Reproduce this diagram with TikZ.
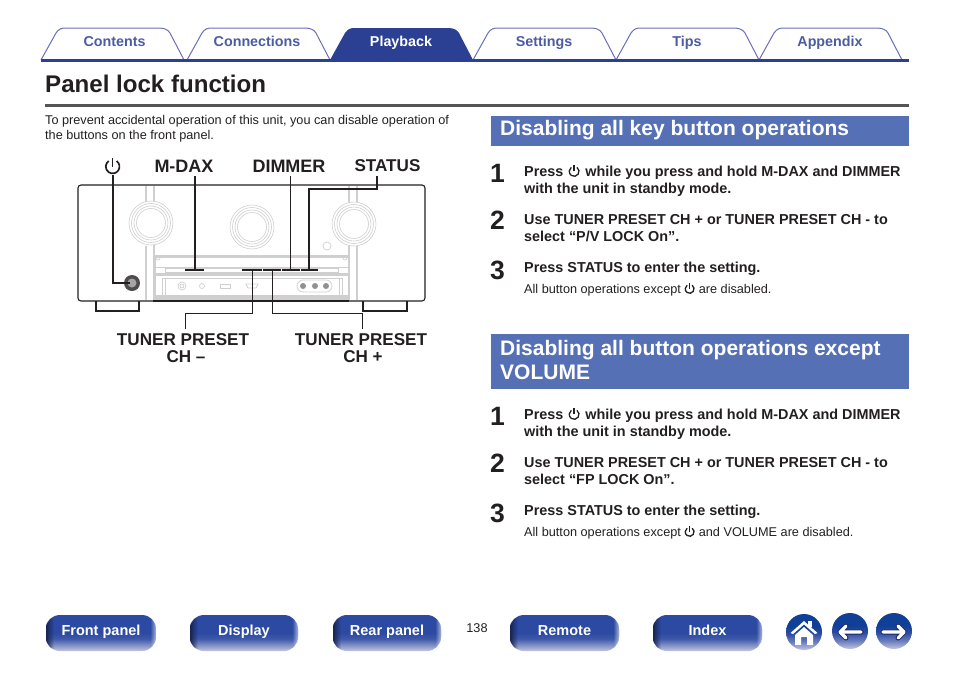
\documentclass[tikz,border=0pt]{standalone}
\usepackage{fontspec}
\setmainfont{Liberation Sans}
\usetikzlibrary{positioning}
\usetikzlibrary{fadings}
\definecolor{mtab}{HTML}{2B3F93}
\definecolor{mbtn}{HTML}{2D4AA2}
\definecolor{mline}{HTML}{6A6DB8}
\definecolor{mhead}{HTML}{5570B5}
\definecolor{mink}{HTML}{231F20}
\definecolor{mrule}{HTML}{555555}
\definecolor{mgray}{HTML}{CFCFCF}
\definecolor{mdeep}{HTML}{0F3F96}
\definecolor{mpale}{HTML}{C6C4E2}
\pgfdeclareverticalshading{mbutton}{100bp}{color(0bp)=(mpale); color(25bp)=(mpale); color(33bp)=(mbtn!60!white); color(42bp)=(mbtn!92!white); color(50bp)=(mbtn); color(100bp)=(mbtn)}
\pgfdeclareverticalshading{mround}{100bp}{color(0bp)=(mpale); color(25bp)=(mpale); color(36bp)=(mbtn!70!white); color(48bp)=(mbtn); color(58bp)=(mdeep); color(100bp)=(mdeep)}
\newcommand{\pwr}[1][1]{\tikz[baseline=0pt,x=1pt,y=1pt,scale=#1]{\draw [pwrline] (0,4.6) ++(55:4.9) arc[start angle=55,end angle=-235,radius=4.9];\draw [pwrline] (0,4.6) -- (0,11);}}
\tikzset{
  pwrline/.style = {line width=1.3pt},
  tablbl/.style = {font=\fontsize{14.3}{16}\bfseries\selectfont, text=mtab!85!white, inner sep=0, anchor=base},
  lbl/.style = {font=\fontsize{18}{20}\bfseries\selectfont, text=mink, inner sep=0},
  lblsm/.style = {lbl, font=\fontsize{17.1}{20}\bfseries\selectfont},
  head/.style = {font=\fontsize{21}{24}\bfseries\selectfont, text=white, inner sep=0, anchor=base west},
  num/.style = {font=\fontsize{26.5}{27}\bfseries\selectfont, text=mink, inner sep=0, anchor=base west},
  stp/.style = {font=\fontsize{14.4}{17}\bfseries\selectfont, text=mink, inner sep=0, anchor=base west},
  note/.style = {font=\fontsize{12.7}{15}\selectfont, text=mink, inner sep=0, anchor=base west},
  navbtn/.style = {shading=mbutton, rounded corners=14, minimum width=#1, minimum height=36, inner sep=0,
    text height=10, text depth=6, font=\fontsize{14.5}{16}\bfseries\selectfont, text=white},
  roundbtn/.style = {circle, shading=mround, minimum size=36, inner sep=0},
  link/.style = {line width=1.8pt, mink},
  thinlink/.style = {line width=0.8pt, mink},
  part/.style = {mgray, line width=1.2pt},
  fine/.style = {mgray, line width=0.7pt},
  hull/.style = {mink, line width=1.1pt},
}
\begin{document}
\begin{tikzpicture}[x=1pt, y=-1pt]
  \useasboundingbox (0,0) rectangle (954,673);

  % tabs
  \foreach \a in {41,187,473,616,759} {
    \draw [mline, line width=1pt] (\a,60) -- (\a+15,33) .. controls (\a+18,29) and (\a+20,28) .. (\a+25,28)
      -- (\a+118,28) .. controls (\a+124,28) and (\a+127,30) .. (\a+129,33) -- (\a+143,60);
  }
  \fill [mtab] (330,60) -- (345,33) .. controls (348,29) and (350,28) .. (355,28)
    -- (448,28) .. controls (454,28) and (457,30) .. (459,33) -- (473,60) -- cycle;
  \fill [mtab] (41,59) rectangle (909,62);
  \node [tablbl] (contents) at (114.5,46) {Contents};
  \node [tablbl] (connections) at (257,46) {Connections};
  \node [tablbl, text=white] (playback) at (401,46) {Playback};
  \node [tablbl] (settings) at (544,46) {Settings};
  \node [tablbl] (tips) at (687,46) {Tips};
  \node [tablbl] (appendix) at (830,46) {Appendix};

  % title
  \node [inner sep=0, anchor=base west, text=mink, font=\fontsize{24.1}{28}\bfseries\selectfont] (title) at (45,92) {Panel lock function};
  \fill [mrule] (45,104) rectangle (909,107);
  \node [note] (introa) at (45,124) {To prevent accidental operation of this unit, you can disable operation of};
  \node [note] (introb) at (45,139) {the buttons on the front panel.};

  % unit
  \draw [hull, rounded corners=3] (78,185) rectangle (425,301);
  \draw [mink, line width=1.3pt] (153,301) -- (349,301);
  \draw [part] (146,186) -- (146,202) (146,246) -- (146,300) (154,186) -- (154,204) (154,244) -- (154,300);
  \draw [part] (357,186) -- (357,202) (357,246) -- (357,300) (349,186) -- (349,204) (349,244) -- (349,300);
  \foreach \x/\y in {151/223,252/227,354/224} {
    \fill [white] (\x,\y) circle (22);
    \foreach \r in {22,19.5,17,14.5} \draw [fine, line width=0.6pt] (\x,\y) circle (\r);
  }
  \draw [fine] (327,246) circle (4);
  \fill [mgray] (155,255) rectangle (348,258);
  \draw [fine] (155,255) rectangle (348,267);
  \draw [fine] (155,255) -- (155,300) (348,255) -- (348,300);
  \draw [fine] (158,258) circle (2) (345,258) circle (2);
  \draw [fine] (165,268) rectangle (338,272);
  \fill [mgray] (155,273) rectangle (348,275.5);
  \draw [fine] (162,278) rectangle (342,295);
  \fill [mgray] (155,295) rectangle (348,300);
  \draw [fine] (165,278) -- (165,295) (339,278) -- (339,295);
  \draw [fine] (182,286) circle (4);
  \draw [fine] (182,286) circle (2);
  \draw [fine] (202,286) circle (2.5);
  \draw [fine] (220,284) rectangle (230,288);
  \draw [fine] (246,284) -- (258,284) -- (256,288) -- (248,288) -- cycle;
  \draw [fine, rounded corners=6] (297,280) rectangle (332,292);
  \foreach \x in {303,315,326} \fill [mgray!70!black] (\x,286) circle (3);
  \draw [hull] (96,301) -- (96,311) -- (139,311) -- (139,301);
  \draw [hull] (363,301) -- (363,311) -- (407,311) -- (407,301);
  \draw [mink, line width=1.8pt] (105,311.5) -- (130,311.5) (372,311.5) -- (398,311.5);
  \fill [mink!80!white] (132,283) circle (8);
  \fill [mgray!80!black] (132,283) circle (4.5);

  % buttons under the display
  \draw [mink, line width=1.6pt] (185,270) -- (204,270);
  \draw [mink, line width=1.6pt] (242,270) -- (318,270);
  \foreach \x in {262,281,300} \draw [white, line width=0.5pt] (\x,269) -- (\x,271);
  \coordinate (bmdax) at (195,270);
  \coordinate (bdimmer) at (290,270);
  \coordinate (bstatus) at (309,270);
  \coordinate (bminus) at (252,270);
  \coordinate (bplus) at (272,270);
  \coordinate (bpower) at (130,283);
  \coordinate (kmdax) at (195,176);
  \coordinate (kdimmer) at (290,176);
  \coordinate (kstatus) at (377,176);
  \coordinate (kminus) at (185,329);
  \coordinate (kplus) at (362,329);

  % labels
  \node [inner sep=0, text=mink, pwrline/.style={line width=1.7pt}] (pwrlbl) at (113,166) {\pwr[1.4]};
  \node [lbl] (mdax) at (184,166) {M-DAX};
  \node [lbl] (dimmer) at (289,166) {DIMMER};
  \node [lblsm] (status) at (387.5,166) {STATUS};
  \node [lblsm] (minus) at (183,340) {TUNER PRESET};
  \node [lblsm] (minusb) at (186,357) {CH –};
  \node [lblsm] (plus) at (361,340) {TUNER PRESET};
  \node [lblsm] (plusb) at (363,357) {CH +};

  \draw [link] (pwrlbl.south) |- (bpower);
  \draw [link] (kmdax) -- (bmdax);
  \draw [thinlink] (kdimmer) -- (bdimmer);
  \draw [link] (kstatus) |- (309,189) -- (bstatus);
  \draw [thinlink] (bminus) |- (185,313) -- (kminus);
  \draw [thinlink] (bplus) |- (362,313) -- (kplus);

  % first block
  \fill [mhead] (491,116) rectangle (909,146);
  \node [head] (heada) at (500,135) {Disabling all key button operations};
  \node [num] (a1) at (490,182) {1};
  \node [stp] (a1a) at (524,176) {Press \hspace{1pt}\pwr\hspace{1pt}{} while you press and hold M-DAX and DIMMER};
  \node [stp] (a1b) at (524,193) {with the unit in standby mode.};
  \node [num] (a2) at (490,229) {2};
  \node [stp] (a2a) at (524,224) {Use TUNER PRESET CH + or TUNER PRESET CH - to};
  \node [stp] (a2b) at (524,241) {select “P/V LOCK On”.};
  \node [num] (a3) at (490,279) {3};
  \node [stp] (a3a) at (524,272) {Press STATUS to enter the setting.};
  \node [note] (a3b) at (524,293) {All button operations except \pwr[0.9]{} are disabled.};

  % second block
  \fill [mhead] (491,334) rectangle (909,389);
  \node [head] (headb) at (500,355) {Disabling all button operations except};
  \node [head] (headc) at (500,379) {VOLUME};
  \node [num] (b1) at (490,425) {1};
  \node [stp] (b1a) at (524,419) {Press \hspace{1pt}\pwr\hspace{1pt}{} while you press and hold M-DAX and DIMMER};
  \node [stp] (b1b) at (524,436) {with the unit in standby mode.};
  \node [num] (b2) at (490,472) {2};
  \node [stp] (b2a) at (524,467) {Use TUNER PRESET CH + or TUNER PRESET CH - to};
  \node [stp] (b2b) at (524,484) {select “FP LOCK On”.};
  \node [num] (b3) at (490,522) {3};
  \node [stp] (b3a) at (524,515) {Press STATUS to enter the setting.};
  \node [note] (b3b) at (524,536) {All button operations except \pwr[0.9]{} and VOLUME are disabled.};

  % bottom row
  \node [navbtn=110] (front) at (101,633) {Front panel};
  \node [navbtn=108] (display) at (244,633) {Display};
  \node [navbtn=108] (rear) at (387,633) {Rear panel};
  \node [navbtn=109] (remote) at (564.5,633) {Remote};
  \node [navbtn=109] (index) at (707.5,633) {Index};
  \foreach \b in {front,display,rear,remote,index} {
    \begin{scope}
      \clip [rounded corners=14] (\b.south west) rectangle (\b.north east);
      \fill [mtab!55!black, path fading=east] (\b.south west) rectangle ([xshift=8]\b.north west);
      \fill [white, opacity=0.6, path fading=west] ([xshift=-6]\b.south east) rectangle (\b.north east);
    \end{scope}
  }
  \node [inner sep=0, text=mink, font=\fontsize{12.7}{14}\selectfont] (page) at (477,628) {138};

  \node [roundbtn] (home) at (804,632) {};
  \node [roundbtn] (back) at (850,631) {};
  \node [roundbtn] (next) at (894,631) {};
  \fill [white] (790.5,633) -- (804,621) -- (817.5,633) -- (815,634) -- (804,624.5) -- (793,634) -- cycle;
  \fill [white] (795,635) -- (804,627) -- (813,635) -- (813,645) -- (807,645) -- (807,637) -- (801,637) -- (801,645) -- (795,645) -- cycle;
  \fill [white] (807.5,621) rectangle (811.5,627);
  \draw [mtab!70!black, line width=5pt, line join=round, line cap=round] (840,632) -- (861,632) (846,626) -- (840,632) -- (846,638);
  \draw [white, line width=3.2pt, line join=round, line cap=round] (840,632) -- (861,632) (846,626) -- (840,632) -- (846,638);
  \draw [mtab!70!black, line width=5pt, line join=round, line cap=round] (883,632) -- (904,632) (898,626) -- (904,632) -- (898,638);
  \draw [white, line width=3.2pt, line join=round, line cap=round] (883,632) -- (904,632) (898,626) -- (904,632) -- (898,638);
\end{tikzpicture}
\end{document}
